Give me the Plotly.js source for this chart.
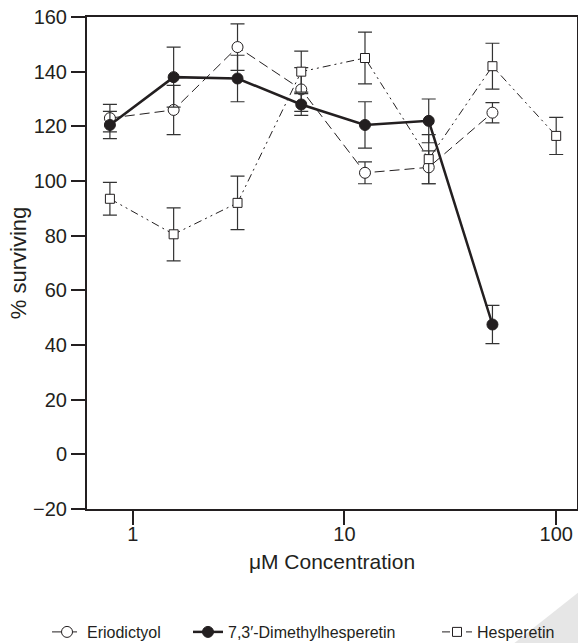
<!DOCTYPE html>
<html>
<head>
<meta charset="utf-8">
<script src="https://cdn.plot.ly/plotly-3.0.1.min.js"></script>
<style>html,body{margin:0;padding:0;background:#fff;}#chart{width:578px;height:643px;}</style>
</head>
<body>
<div id="chart"></div>
<script>
// Data
const conc = [0.78, 1.56, 3.125, 6.25, 12.5, 25, 50];
const concHesp = [0.78, 1.56, 3.125, 6.25, 12.5, 25, 50, 100];
const eriodictyol = [123, 126, 149, 133.5, 103, 105, 125];
const eriodictyolErr = [5, 9, 8.5, 8, 4, 6, 3.7];
const dimethylhesperetin = [120.5, 138, 137.5, 128, 120.5, 122, 47.5];
const dimethylhesperetinErr = [5, 11, 8.5, 4, 8.5, 8, 7];
const hesperetin = [93.5, 80.5, 92, 140, 145, 108, 142, 116.5];
const hesperetinErr = [6, 9.7, 9.8, 7.5, 9.5, 9, 8.4, 6.8];
const seriesNames = ['Eriodictyol', '7,3\u2032-Dimethylhesperetin', 'Hesperetin'];
const xTickVals = [1, 10, 100];
const xTickText = ['1', '10', '100'];

const ink = '#231f20';
const errStyle = {type: 'data', visible: true, color: '#333', thickness: 1.2, width: 7};

const traces = [
  {
    x: conc, y: eriodictyol, name: seriesNames[0], mode: 'lines+markers', type: 'scatter',
    legend: 'legend',
    error_y: Object.assign({array: eriodictyolErr}, errStyle),
    line: {color: ink, width: 1, dash: '10px,5px'},
    marker: {symbol: 'circle', size: 11, color: '#fff', line: {color: ink, width: 1}}
  },
  {
    x: conc, y: dimethylhesperetin, name: seriesNames[1], mode: 'lines+markers', type: 'scatter',
    legend: 'legend2',
    error_y: Object.assign({array: dimethylhesperetinErr}, errStyle),
    line: {color: ink, width: 2.5},
    marker: {symbol: 'circle', size: 11, color: ink, line: {color: ink, width: 1}}
  },
  {
    x: concHesp, y: hesperetin, name: seriesNames[2], mode: 'lines+markers', type: 'scatter',
    legend: 'legend3',
    error_y: Object.assign({array: hesperetinErr}, errStyle),
    line: {color: ink, width: 1, dash: '8px,4px,2px,4px,2px,4px'},
    marker: {symbol: 'square', size: 9, color: '#fff', line: {color: ink, width: 1}}
  }
];

const font = {family: '"Liberation Sans", Arial, sans-serif', color: ink};
const legFont = {family: font.family, size: 16, color: ink};
function leg(x) {
  return {orientation: 'h', x: x, xanchor: 'left', y: -0.25, yanchor: 'middle',
          font: legFont, bgcolor: 'rgba(0,0,0,0)'};
}

const layout = {
  width: 578, height: 643,
  margin: {l: 87, r: 1, t: 17, b: 134, autoexpand: false},
  paper_bgcolor: '#fff', plot_bgcolor: '#fff',
  font: font,
  showlegend: true,
  legend: leg(-0.0816),
  legend2: leg(0.2061),
  legend3: leg(0.7143),
  xaxis: {
    type: 'log', range: [Math.log10(0.608), Math.log10(125.4)],
    tickvals: xTickVals, ticktext: xTickText,
    ticks: 'outside', ticklen: 14, tickwidth: 2, tickcolor: ink,
    ticklabelstandoff: -8,
    showline: true, linecolor: ink, linewidth: 2, mirror: true,
    showgrid: false, zeroline: false,
    tickfont: {family: font.family, size: 20, color: ink},
    title: {text: '\u03bcM Concentration', font: {family: font.family, size: 21, color: ink}, standoff: 10}
  },
  yaxis: {
    range: [-20, 160], dtick: 20,
    ticks: 'outside', ticklen: 14, tickwidth: 2, tickcolor: ink,
    showline: true, linecolor: ink, linewidth: 2, mirror: true,
    showgrid: false, zeroline: false,
    tickfont: {family: font.family, size: 20, color: ink},
    title: {text: '% surviving', font: {family: font.family, size: 22, color: ink}, standoff: 0}
  },
  shapes: [{
    type: 'path', xref: 'paper', yref: 'paper',
    path: 'M 0.869 -0.275 L 1.002 -0.17 L 1.002 -0.275 Z',
    fillcolor: '#e6e6e6', line: {width: 0}, layer: 'below'
  }]
};

Plotly.newPlot('chart', traces, layout, {displayModeBar: false, staticPlot: true});
</script>
</body>
</html>
